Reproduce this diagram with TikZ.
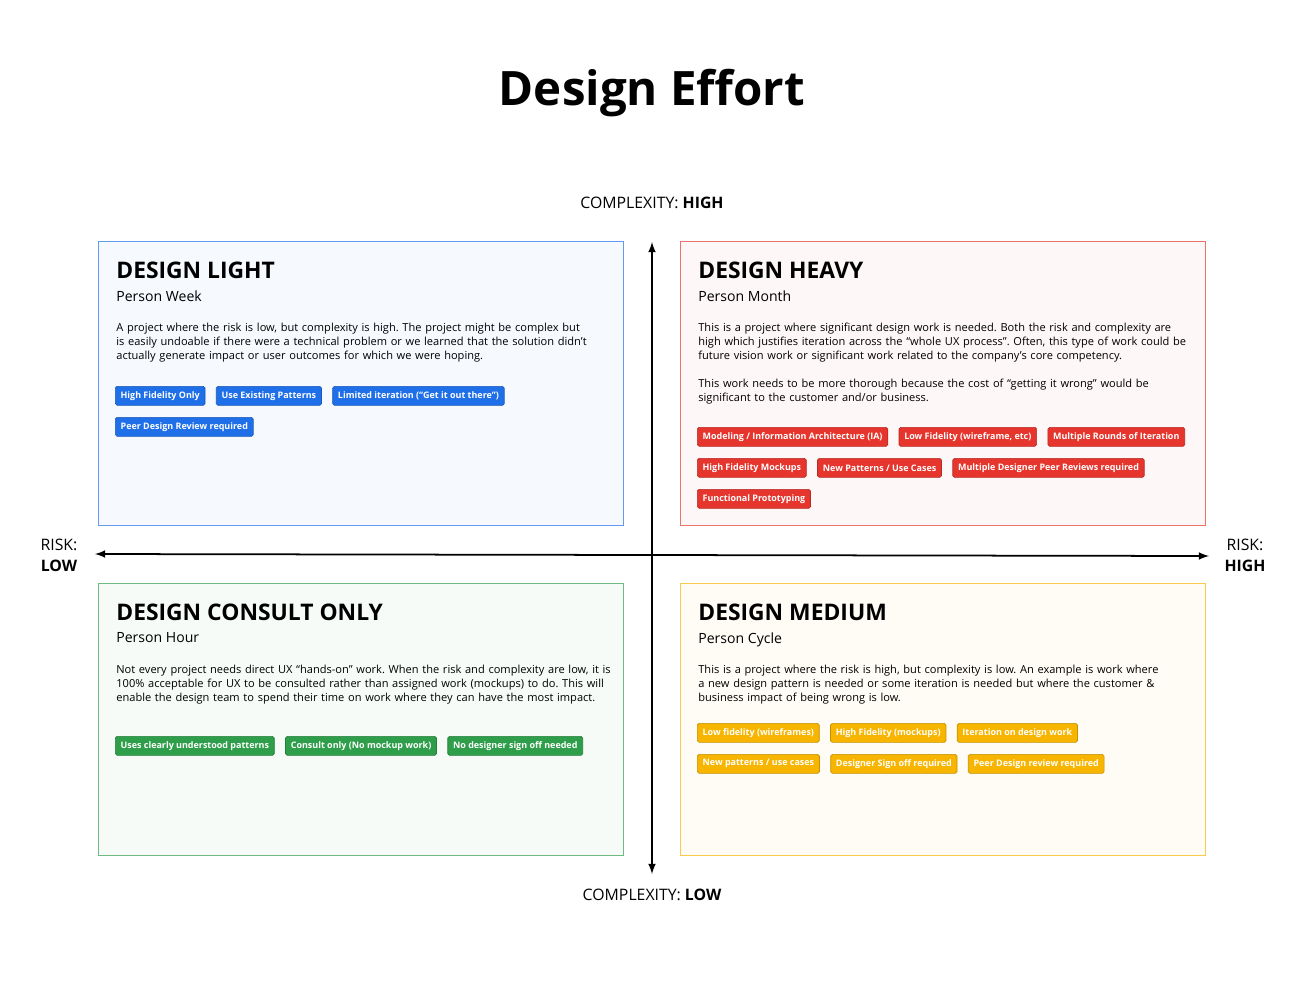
\documentclass[tikz,border=0pt]{standalone}
\usepackage{fontspec}
\setmainfont{Open Sans}
\usetikzlibrary{positioning}
\definecolor{blueTag}{HTML}{1F6FE8}
\definecolor{redTag}{HTML}{E5352D}
\definecolor{greenTag}{HTML}{2E9E4A}
\definecolor{yellowTag}{HTML}{F7B500}
\frenchspacing
\hyphenpenalty=10000
\exhyphenpenalty=10000
\tikzset{
  quad/.style={draw=#1!70, fill=#1!4, line width=0.5pt},
  head/.style={anchor=north west, inner sep=0pt, font=\fontsize{13}{15}\selectfont\bfseries},
  sub/.style={anchor=north west, inner sep=0pt, font=\fontsize{8}{10}\selectfont},
  body/.style={anchor=north west, inner sep=0pt, text width=9.9cm, align=left,
    font=\fontsize{6.3}{7.9}\selectfont},
  tag/.style={fill=#1, draw=#1!80!black, rounded corners=1pt, text=white, inner sep=0pt,
    minimum height=0.38cm, inner xsep=3pt, font=\fontsize{5.1}{6}\selectfont\bfseries},
  axlabel/.style={font=\fontsize{9}{11}\selectfont, align=center, inner sep=0pt}
}
\begin{document}
\begin{tikzpicture}[x=0.02cm, y=-0.02cm]
  \useasboundingbox[fill=white] (0,0) rectangle (1308,981);
  \node[font=\fontsize{27}{32}\selectfont\bfseries] (title) at (652,93) {Design Effort};

  % quadrants
  \draw[quad=blueTag] (98,241) rectangle (623,525);
  \draw[quad=redTag] (680,241) rectangle (1205,525);
  \draw[quad=greenTag] (98,583) rectangle (623,855);
  \draw[quad=yellowTag] (680,583) rectangle (1205,855);

  % axes
  \coordinate (top) at (652,242);
  \coordinate (bottom) at (652,874);
  \coordinate (left) at (95,554);
  \coordinate (right) at (1209,556);
  \draw[latex-latex, line width=1pt] (bottom) -- (top);
  \draw[latex-latex, line width=1pt] (left) -- (right);
  \node[axlabel] (hi) at (652,203) {COMPLEXITY: \textbf{HIGH}};
  \node[axlabel] (lo) at (652,895) {COMPLEXITY: \textbf{LOW}};
  \node[axlabel] (rlo) at (59,555) {RISK:\\[1pt]\textbf{LOW}};
  \node[axlabel] (rhi) at (1245,555) {RISK:\\[1pt]\textbf{HIGH}};

  % design light
  \node[head] (lightH) at (116,262) {DESIGN LIGHT};
  \node[sub] (lightS) at (116,290) {Person Week};
  \node[body] (lightB) at (116,323) {A project where the risk is low, but complexity is high. The project might be complex but is easily undoable if there were a technical problem or we learned that the solution didn't actually generate impact or user outcomes for which we were hoping.};
  \node[tag=blueTag, anchor=north west] (l1) at (115,386) {High Fidelity Only};
  \node[tag=blueTag, right=6pt of l1] (l2) {Use Existing Patterns};
  \node[tag=blueTag, right=6pt of l2] (l3) {Limited iteration (“Get it out there”)};
  \node[tag=blueTag, anchor=north west] (l4) at (115,417) {Peer Design Review required};

  % design heavy
  \node[head] (heavyH) at (698,262) {DESIGN HEAVY};
  \node[sub] (heavyS) at (698,290) {Person Month};
  \node[body] (heavyB) at (698,323) {This is a project where significant design work is needed. Both the risk and complexity are high which justifies iteration across the “whole UX process”. Often, this type of work could be future vision work or significant work related to the company's core competency.\\[7.9pt]
  This work needs to be more thorough because the cost of “getting it wrong” would be significant to the customer and/or business.};
  \node[tag=redTag, anchor=north west] (h1) at (697,427) {Modeling / Information Architecture (IA)};
  \node[tag=redTag, right=6pt of h1] (h2) {Low Fidelity (wireframe, etc)};
  \node[tag=redTag, right=6pt of h2] (h3) {Multiple Rounds of Iteration};
  \node[tag=redTag, anchor=north west] (h4) at (697,458) {High Fidelity Mockups};
  \node[tag=redTag, right=6pt of h4] (h5) {New Patterns / Use Cases};
  \node[tag=redTag, right=6pt of h5] (h6) {Multiple Designer Peer Reviews required};
  \node[tag=redTag, anchor=north west] (h7) at (697,489) {Functional Prototyping};

  % design consult only
  \node[head] (consH) at (116,604) {DESIGN CONSULT ONLY};
  \node[sub] (consS) at (116,632) {Person Hour};
  \node[body] (consB) at (116,665) {Not every project needs direct UX “hands-on” work. When the risk and complexity are low, it is 100\% acceptable for UX to be consulted rather than assigned work (mockups) to do. This will enable the design team to spend their time on work where they can have the most impact.};
  \node[tag=greenTag, anchor=north west] (c1) at (115,736) {Uses clearly understood patterns};
  \node[tag=greenTag, right=6pt of c1] (c2) {Consult only (No mockup work)};
  \node[tag=greenTag, right=6pt of c2] (c3) {No designer sign off needed};

  % design medium
  \node[head] (medH) at (698,604) {DESIGN MEDIUM};
  \node[sub] (medS) at (698,632) {Person Cycle};
  \node[body] (medB) at (698,665) {This is a project where the risk is high, but complexity is low. An example is work where a new design pattern is needed or some iteration is needed but where the customer \& business impact of being wrong is low.};
  \node[tag=yellowTag, anchor=north west] (m1) at (697,723) {Low fidelity (wireframes)};
  \node[tag=yellowTag, right=6pt of m1] (m2) {High Fidelity (mockups)};
  \node[tag=yellowTag, right=6pt of m2] (m3) {Iteration on design work};
  \node[tag=yellowTag, anchor=north west] (m4) at (697,754) {New patterns / use cases};
  \node[tag=yellowTag, right=6pt of m4] (m5) {Designer Sign off required};
  \node[tag=yellowTag, right=6pt of m5] (m6) {Peer Design review required};
\end{tikzpicture}
\end{document}
